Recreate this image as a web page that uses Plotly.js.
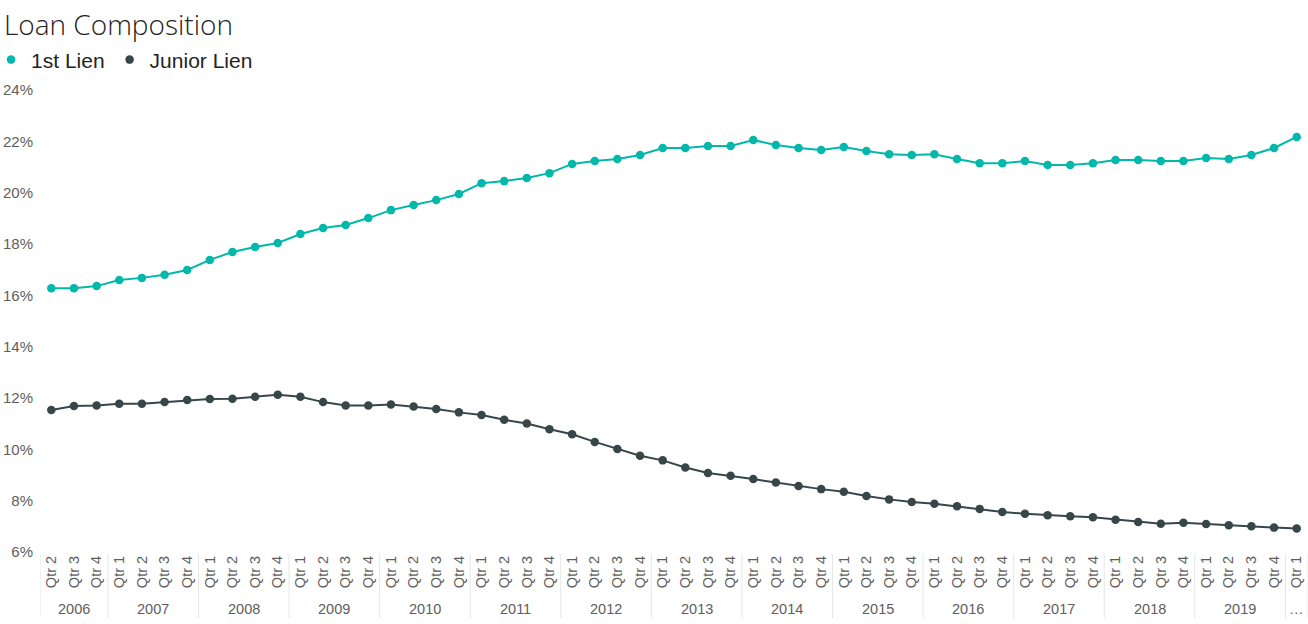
<!DOCTYPE html>
<html>
<head>
<meta charset="utf-8">
<script src="https://cdn.plot.ly/plotly-3.0.1.min.js"></script>
<style>
  html, body { margin: 0; padding: 0; background: #ffffff; }
  #chart { width: 1308px; height: 624px; }
</style>
</head>
<body>
<div id="chart"></div>
<script>
// Year (outer) tick labels, one per point; the last year is shown truncated as "…"
const yearLabels = [
  "2006","2006","2006",
  "2007","2007","2007","2007",
  "2008","2008","2008","2008",
  "2009","2009","2009","2009",
  "2010","2010","2010","2010",
  "2011","2011","2011","2011",
  "2012","2012","2012","2012",
  "2013","2013","2013","2013",
  "2014","2014","2014","2014",
  "2015","2015","2015","2015",
  "2016","2016","2016","2016",
  "2017","2017","2017","2017",
  "2018","2018","2018","2018",
  "2019","2019","2019","2019",
  "\u2026"
];
// Quarter (inner) tick labels
const quarterLabels = [
  "Qtr 2","Qtr 3","Qtr 4",
  "Qtr 1","Qtr 2","Qtr 3","Qtr 4",
  "Qtr 1","Qtr 2","Qtr 3","Qtr 4",
  "Qtr 1","Qtr 2","Qtr 3","Qtr 4",
  "Qtr 1","Qtr 2","Qtr 3","Qtr 4",
  "Qtr 1","Qtr 2","Qtr 3","Qtr 4",
  "Qtr 1","Qtr 2","Qtr 3","Qtr 4",
  "Qtr 1","Qtr 2","Qtr 3","Qtr 4",
  "Qtr 1","Qtr 2","Qtr 3","Qtr 4",
  "Qtr 1","Qtr 2","Qtr 3","Qtr 4",
  "Qtr 1","Qtr 2","Qtr 3","Qtr 4",
  "Qtr 1","Qtr 2","Qtr 3","Qtr 4",
  "Qtr 1","Qtr 2","Qtr 3","Qtr 4",
  "Qtr 1","Qtr 2","Qtr 3","Qtr 4",
  "Qtr 1"
];
// Series values (share, fraction)
const firstLien = [
  0.1628,0.1628,0.1636,
  0.1660,0.1668,0.1680,0.1699,
  0.1738,0.1769,0.1788,0.1804,
  0.1839,0.1862,0.1874,0.1901,
  0.1932,0.1952,0.1971,0.1995,
  0.2037,0.2045,0.2057,0.2076,
  0.2112,0.2123,0.2131,0.2147,
  0.2174,0.2174,0.2182,0.2182,
  0.2205,0.2186,0.2174,0.2166,
  0.2178,0.2162,0.2150,0.2147,
  0.2150,0.2131,0.2115,0.2115,
  0.2123,0.2108,0.2108,0.2115,
  0.2127,0.2127,0.2123,0.2123,
  0.2135,0.2131,0.2147,0.2174,
  0.2217
];
const juniorLien = [
  0.1153,0.1169,0.1171,
  0.1178,0.1178,0.1184,0.1192,
  0.1196,0.1197,0.1205,0.1213,
  0.1205,0.1184,0.1171,0.1171,
  0.1175,0.1167,0.1157,0.1144,
  0.1134,0.1115,0.1101,0.1078,
  0.1059,0.1029,0.1001,0.0975,
  0.0957,0.0929,0.0908,0.0897,
  0.0884,0.0871,0.0857,0.0845,
  0.0835,0.0818,0.0805,0.0795,
  0.0788,0.0778,0.0768,0.0756,
  0.0749,0.0743,0.0739,0.0735,
  0.0726,0.0717,0.0710,0.0714,
  0.0709,0.0704,0.0700,0.0695,
  0.0692
];
const seriesNames = ["1st Lien", "Junior Lien"];
const seriesColors = ["#01B8AA", "#374649"];

// Unique category key per period (year + quarter), shown with the quarter text only
const periodKeys = yearLabels.map((y, i) => y + " " + quarterLabels[i]);
const allSeries = [firstLien, juniorLien];

const traces = [];
allSeries.forEach((vals, i) => {
  traces.push({
    type: "scatter", mode: "lines", x: periodKeys, y: vals,
    line: { color: seriesColors[i], width: 2 },
    showlegend: false, hoverinfo: "skip"
  });
});
allSeries.forEach((vals, i) => {
  traces.push({
    type: "scatter", mode: "markers", x: periodKeys, y: vals, name: seriesNames[i],
    marker: { color: seriesColors[i], size: 8.5 },
    showlegend: true
  });
});

// Year groups: label at the group's centre, divider at the group's edges (in category index units)
const groups = [];
yearLabels.forEach((y, i) => {
  if (!groups.length || groups[groups.length - 1].label !== y) groups.push({ label: y, start: i, end: i });
  else groups[groups.length - 1].end = i;
});
const yearAnnotations = groups.map(g => ({
  x: (g.start + g.end) / 2, xref: "x",
  y: -0.1234, yref: "paper", yanchor: "middle", xanchor: "center",
  text: g.label, showarrow: false,
  font: { family: "Liberation Sans, Arial, sans-serif", size: 14.5, color: "#605E5C" }
}));
const dividerShapes = groups.map(g => g.start - 0.5).concat([groups[groups.length - 1].end + 0.5]).map(xb => ({
  type: "line", xref: "x", yref: "paper",
  x0: xb, x1: xb, y0: -0.004, y1: -0.143,
  line: { color: "#E6E6E6", width: 1 }
}));

const layout = {
  width: 1308, height: 624,
  margin: { l: 40, r: 0, t: 90, b: 72, pad: 0, autoexpand: false },
  paper_bgcolor: "#ffffff", plot_bgcolor: "#ffffff",
  title: {
    text: "Loan Composition",
    x: 0.003, xref: "container", xanchor: "left",
    y: 0.976, yref: "container", yanchor: "top",
    font: { family: "Open Sans, Segoe UI, sans-serif", size: 28, color: "#252423", weight: 300 }
  },
  showlegend: true,
  legend: {
    orientation: "h", x: -0.0386, xanchor: "left", y: 1.065, yanchor: "middle",
    font: { family: "Liberation Sans, Arial, sans-serif", size: 21, color: "#252423" },
    itemwidth: 30, traceorder: "normal", bgcolor: "rgba(0,0,0,0)"
  },
  xaxis: {
    type: "category",
    range: [-0.5, 55.5],
    tickmode: "array", tickvals: periodKeys, ticktext: quarterLabels,
    tickangle: -90,
    showgrid: false, zeroline: false, showline: false, ticks: "",
    tickfont: { family: "Liberation Sans, Arial, sans-serif", size: 14.5, color: "#605E5C" },
    automargin: false
  },
  yaxis: {
    range: [0.06, 0.24],
    tickvals: [0.06, 0.08, 0.10, 0.12, 0.14, 0.16, 0.18, 0.20, 0.22, 0.24],
    tickformat: ".0%",
    showgrid: false, zeroline: false, showline: false, ticks: "",
    ticklabelstandoff: 6,
    tickfont: { family: "Liberation Sans, Arial, sans-serif", size: 15, color: "#605E5C" },
    automargin: false
  },
  annotations: yearAnnotations,
  shapes: dividerShapes,
  hovermode: false
};

Plotly.newPlot("chart", traces, layout, { displayModeBar: false, staticPlot: true });
</script>
</body>
</html>
